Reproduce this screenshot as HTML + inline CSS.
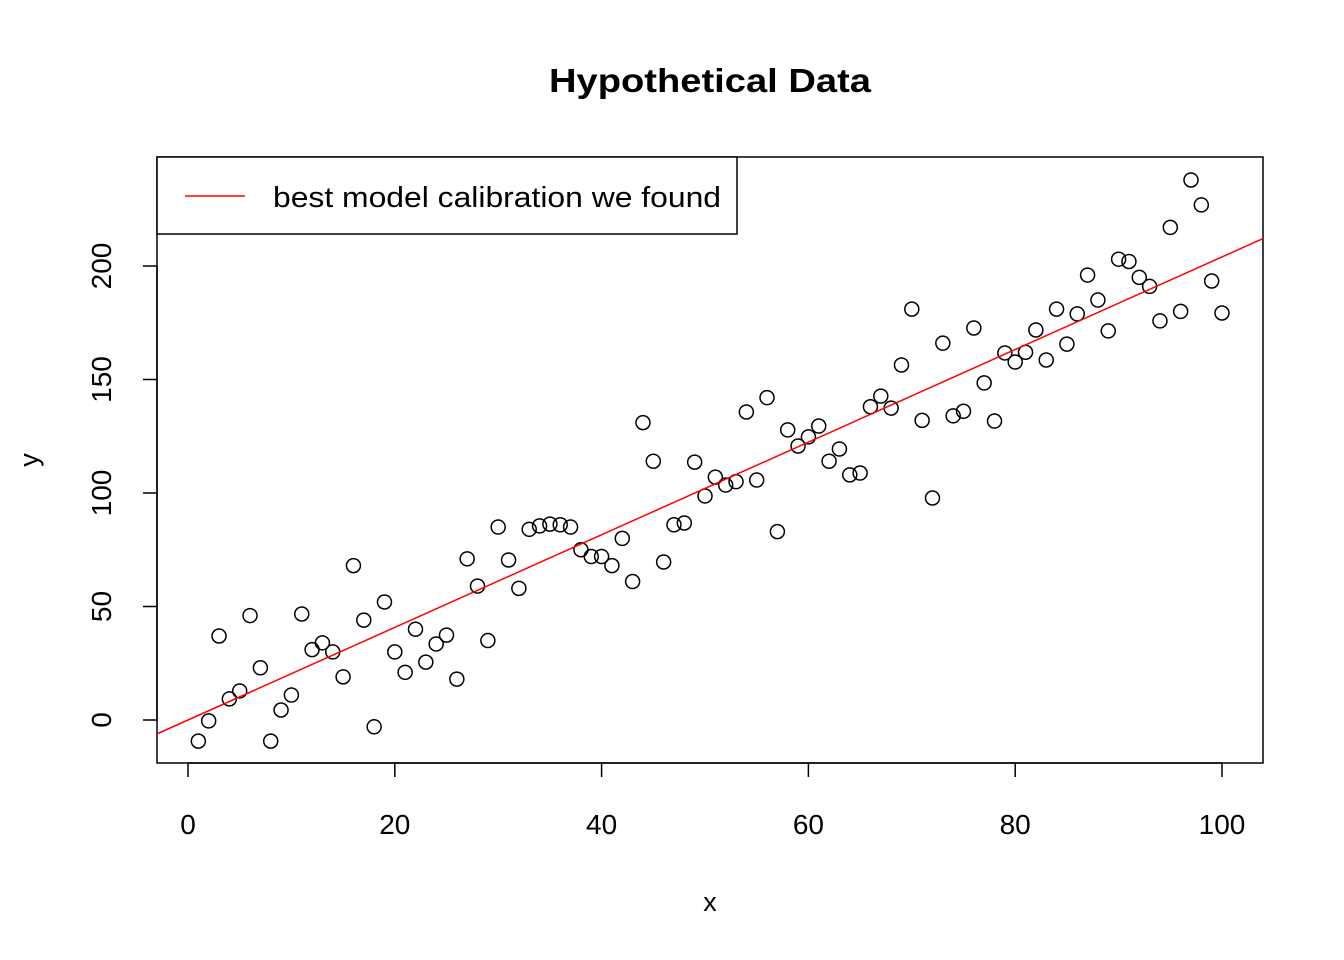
<!DOCTYPE html>
<html><head><meta charset="utf-8"><style>
html,body{margin:0;padding:0;background:#fff;}
svg{display:block;font-family:"Liberation Sans",Arial,sans-serif;}
</style></head><body>
<svg id="chart" width="1344" height="960" viewBox="0 0 1344 960" xmlns="http://www.w3.org/2000/svg">
<rect width="1344" height="960" fill="#fff"/>
<text x="549" y="92" font-size="33" font-weight="bold" textLength="322" lengthAdjust="spacingAndGlyphs">Hypothetical Data</text>
<rect x="157" y="157" width="1106" height="606" fill="none" stroke="#000" stroke-width="1.5"/>
<g id="xaxis"></g>
<g id="yaxis"></g>
<text x="710" y="911" text-anchor="middle" font-size="27">x</text>
<text transform="translate(38,460) rotate(-90)" text-anchor="middle" font-size="27">y</text>
<defs><clipPath id="clip"><rect x="157" y="157" width="1106" height="606"/></clipPath></defs>
<g id="points"></g>
<g id="fit" clip-path="url(#clip)"></g>
<g>
<rect x="157" y="157" width="580" height="77" fill="#fff" stroke="#000" stroke-width="1.5"/>
<line x1="185" y1="196" x2="245" y2="196" stroke="#ff0000" stroke-width="1.5"/>
<text x="273" y="207" font-size="29" textLength="448" lengthAdjust="spacingAndGlyphs">best model calibration we found</text>
</g>
</svg>
<script>
const xs = Array.from({length:100},(_,i)=>i+1);
const ys = [-9.3,-0.4,37,9.3,12.8,46,23,-9.3,4.4,11,46.7,31,34,30,19,68,44,-3,52,30,21,40,25.5,33.5,37.4,18,71,59,35,85,70.5,58,84,85.5,86.3,86,85,75,72,72,68,80,61,131,114,69.6,86,86.8,113.6,98.7,107,103.5,105,135.7,105.7,142,83,127.8,120.7,124.7,129.5,114,119.4,108,108.8,138,142.7,137.4,156.4,181,132,97.8,166,134,136,172.7,148.5,131.7,161.7,157.7,162,171.8,158.6,181,165.6,178.9,196,185,171.4,203,202,195,191,175.8,217,180,237.9,226.9,193.4,179.3];
const xTicks = [0,20,40,60,80,100];
const yTicks = [0,50,100,150,200];
const fitIntercept = 0;
const fitSlope = 2.04;
const sx = v => 188 + v*10.34;
const sy = v => 720 - v*2.27;
const NS="http://www.w3.org/2000/svg";
function mk(tag,attrs,parent){const e=document.createElementNS(NS,tag);for(const k in attrs)e.setAttribute(k,attrs[k]);parent.appendChild(e);return e;}
const xa=document.getElementById('xaxis'), ya=document.getElementById('yaxis');
mk('line',{x1:sx(xTicks[0]),x2:sx(xTicks[xTicks.length-1]),y1:763,y2:763,stroke:'#000','stroke-width':1.5},xa);
xTicks.forEach(t=>{
  const l=mk('line',{x1:sx(t),x2:sx(t),y1:763,y2:777,stroke:'#000','stroke-width':1.5},xa);
  
  
  const tx=mk('text',{x:sx(t),y:834,'text-anchor':'middle','font-size':28},xa);
  
  
  tx.textContent=t;
});
mk('line',{x1:157,x2:157,y1:sy(yTicks[0]),y2:sy(yTicks[yTicks.length-1]),stroke:'#000','stroke-width':1.5},ya);
yTicks.forEach(t=>{
  const l=mk('line',{x1:143,x2:157,y1:sy(t),y2:sy(t),stroke:'#000','stroke-width':1.5},ya);
  
  
  const tx=mk('text',{transform:`translate(111,${sy(t)}) rotate(-90)`,'text-anchor':'middle','font-size':28},ya);
  
  
  tx.textContent=t;
});
const pg=document.getElementById('points');
xs.forEach((x,i)=>{
  const c=mk('circle',{cx:sx(x),cy:sy(ys[i]),r:7,fill:'none',stroke:'#000','stroke-width':1.5},pg);
  
  
});
const fx0=-5, fx1=110;
const fl=mk('line',{x1:sx(fx0),y1:sy(fitIntercept+fitSlope*fx0),x2:sx(fx1),y2:sy(fitIntercept+fitSlope*fx1),stroke:'#ff0000','stroke-width':1.5},document.getElementById('fit'));


</script>
</body></html>
